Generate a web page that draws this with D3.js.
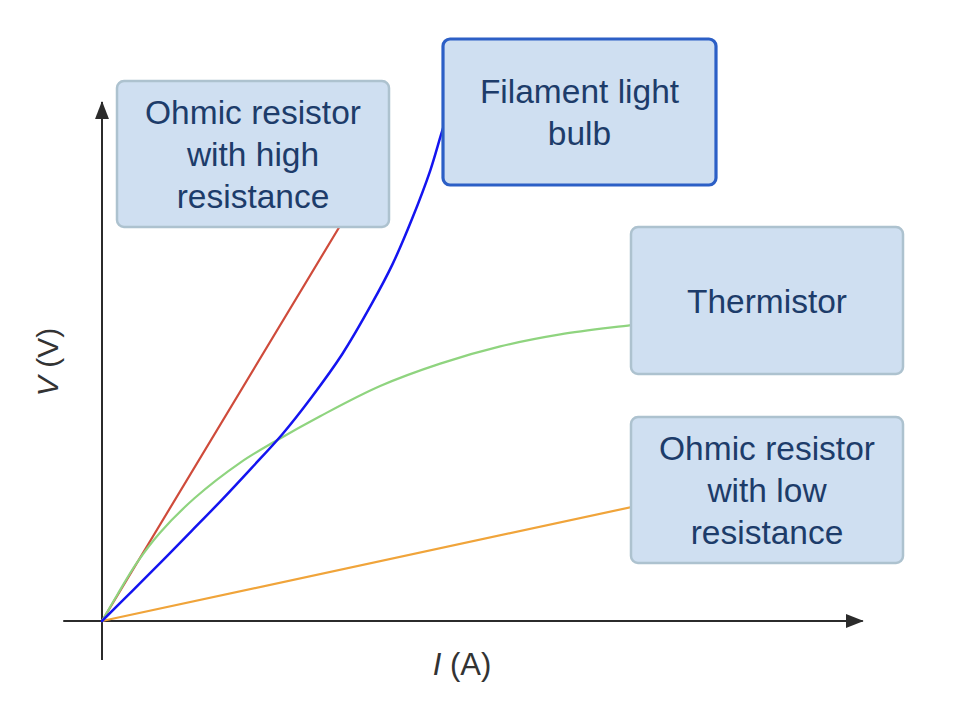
<!DOCTYPE html>
<html>
<head>
<meta charset="utf-8">
<script src="https://cdn.jsdelivr.net/npm/d3@7"></script>
<style>
  html, body { margin: 0; padding: 0; background: #ffffff; }
  svg { display: block; }
</style>
</head>
<body>
<svg id="chart" width="954" height="708"></svg>
<script>
// ---- data (I in arbitrary units, V in arbitrary units) ----
const highResistance = [[0, 0], [3.2, 7.75]];
const lowResistance  = [[0, 0], [7.2, 2.26]];
const filamentBulb   = [[0, 0], [0.40, 0.58], [0.79, 1.15], [1.18, 1.73], [1.58, 2.33], [1.97, 2.94],
                        [2.37, 3.58], [2.76, 4.30], [3.16, 5.12], [3.55, 6.09], [3.82, 6.84], [4.08, 7.72],
                        [4.32, 8.65], [4.46, 9.33], [4.53, 9.66]];
const thermistor     = [[0, 0], [0.20, 0.50], [0.46, 1.12], [0.76, 1.69], [1.22, 2.36], [1.82, 3.04],
                        [2.28, 3.45], [2.87, 3.93], [3.66, 4.51], [4.45, 4.94], [5.24, 5.27], [6.03, 5.50],
                        [6.96, 5.68], [7.21, 5.73]];
const seriesNames  = ["Ohmic resistor with high resistance", "Filament light bulb", "Thermistor", "Ohmic resistor with low resistance"];
const labelLines   = [["Ohmic resistor", "with high", "resistance"], ["Filament light", "bulb"], ["Thermistor"], ["Ohmic resistor", "with low", "resistance"]];
const xAxisLabel = ["I", " (A)"];
const yAxisLabel = ["V", " (V)"];

// ---- layout ----
const svg = d3.select("#chart");
const x = d3.scaleLinear().domain([0, 10]).range([102, 862]);
const y = d3.scaleLinear().domain([0, 10]).range([621, 100]);
const xAxisExtent = [-0.51, 10.01];
const yAxisExtent = [-0.75, 9.96];

const axisColor = "#2b2b2b";
const defs = svg.append("defs");
defs.append("marker")
  .attr("id", "arrow")
  .attr("viewBox", "0 -7 18 14")
  .attr("refX", 17).attr("refY", 0)
  .attr("markerWidth", 18).attr("markerHeight", 14)
  .attr("markerUnits", "userSpaceOnUse")
  .attr("orient", "auto")
  .append("path").attr("d", "M0,-7L18,0L0,7Z").attr("fill", axisColor);

// axes
svg.append("line")
  .attr("x1", x(xAxisExtent[0])).attr("y1", y(0))
  .attr("x2", x(xAxisExtent[1])).attr("y2", y(0))
  .attr("stroke", axisColor).attr("stroke-width", 2)
  .attr("marker-end", "url(#arrow)");
svg.append("line")
  .attr("x1", x(0)).attr("y1", y(yAxisExtent[0]))
  .attr("x2", x(0)).attr("y2", y(yAxisExtent[1]))
  .attr("stroke", axisColor).attr("stroke-width", 2)
  .attr("marker-end", "url(#arrow)");

// axis labels
const xl = svg.append("text")
  .attr("x", 462).attr("y", 675)
  .attr("text-anchor", "middle")
  .attr("font-family", "'Liberation Sans', Arial, Helvetica, sans-serif")
  .attr("font-size", 31).attr("fill", "#333333");
xl.append("tspan").attr("font-style", "italic").text(xAxisLabel[0]);
xl.append("tspan").text(xAxisLabel[1]);

const yl = svg.append("text")
  .attr("transform", "translate(58,362) rotate(-90)")
  .attr("text-anchor", "middle")
  .attr("font-family", "'Liberation Sans', Arial, Helvetica, sans-serif")
  .attr("font-size", 30).attr("fill", "#333333");
yl.append("tspan").attr("font-style", "italic").text(yAxisLabel[0]);
yl.append("tspan").text(yAxisLabel[1]);

// curves
const line = d3.line().x(d => x(d[0])).y(d => y(d[1]));
const smooth = d3.line().x(d => x(d[0])).y(d => y(d[1])).curve(d3.curveCatmullRom.alpha(0.5));

const curves = [
  { data: lowResistance,  color: "#f0a43a", width: 2.2, gen: line },
  { data: highResistance, color: "#cf4b3b", width: 2.2, gen: line },
  { data: thermistor,     color: "#8fd47f", width: 2.2, gen: smooth },
  { data: filamentBulb,   color: "#1414f0", width: 2.5, gen: smooth }
];
svg.append("g").selectAll("path").data(curves).join("path")
  .attr("d", d => d.gen(d.data))
  .attr("fill", "none")
  .attr("stroke", d => d.color)
  .attr("stroke-width", d => d.width)
  .attr("stroke-linecap", "round");

// label boxes
const boxes = [
  { x: 117, y: 81,  w: 272, h: 146, stroke: "#adc2cf", sw: 2.5, lines: labelLines[0] },
  { x: 443, y: 39,  w: 273, h: 146, stroke: "#2c5fc6", sw: 3.2, lines: labelLines[1] },
  { x: 631, y: 227, w: 272, h: 147, stroke: "#adc2cf", sw: 2.5, lines: labelLines[2] },
  { x: 631, y: 417, w: 272, h: 146, stroke: "#adc2cf", sw: 2.5, lines: labelLines[3] }
];
const g = svg.append("g").selectAll("g").data(boxes).join("g")
  .attr("aria-label", (d, i) => seriesNames[i]);
g.append("rect")
  .attr("x", d => d.x).attr("y", d => d.y)
  .attr("width", d => d.w).attr("height", d => d.h)
  .attr("rx", 7).attr("ry", 7)
  .attr("fill", "#cfdff1")
  .attr("stroke", d => d.stroke)
  .attr("stroke-width", d => d.sw);
const lh = 42;
g.each(function(d) {
  const n = d.lines.length;
  const cy = d.y + d.h / 2;
  const t = d3.select(this).append("text")
    .attr("text-anchor", "middle")
    .attr("font-family", "'Liberation Sans', Arial, Helvetica, sans-serif")
    .attr("font-size", 33.5)
    .attr("fill", "#1d3c6a");
  d.lines.forEach((s, i) => {
    t.append("tspan")
      .attr("x", d.x + d.w / 2)
      .attr("y", cy + (i - (n - 1) / 2) * lh + 12)
      .text(s);
  });
});
</script>
</body>
</html>
